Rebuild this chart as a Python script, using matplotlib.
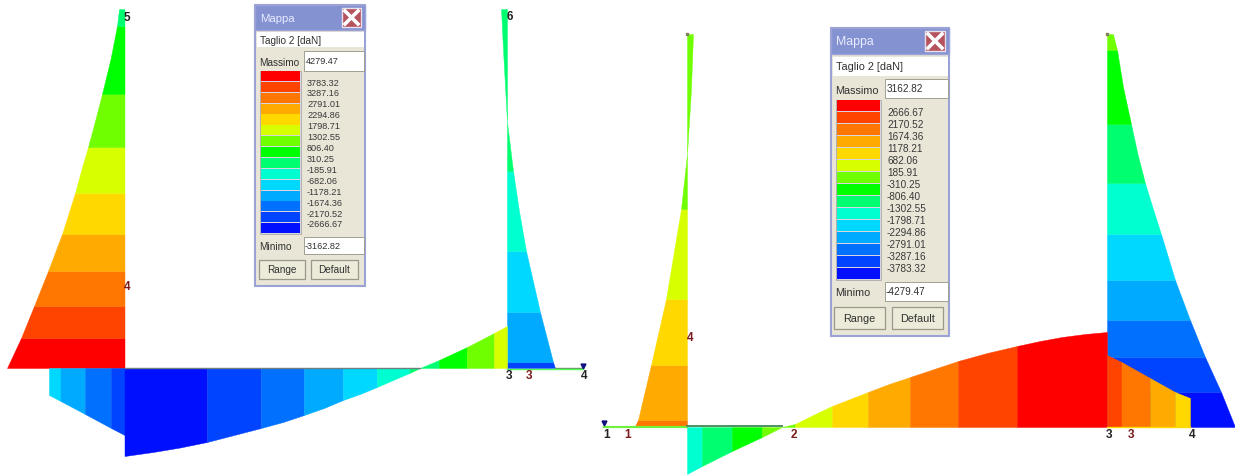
import matplotlib
matplotlib.use("Agg")
import matplotlib.pyplot as plt
from matplotlib.patches import Rectangle

plt.rcParams['font.family'] = ['Liberation Sans', 'DejaVu Sans']

PALETTE = ['#ff0000', '#ff4400', '#ff7700', '#ffaa00', '#ffd800', '#d8ff00', '#70ff00', '#00ff00',
           '#00ff70', '#00ffd0', '#00d8ff', '#00aaff', '#0070ff', '#0044ff', '#0010ff']

# ---- left diagram ----
L_col1_y = [369, 339, 307, 272, 235, 194, 170, 148, 120, 95, 60, 27, 10]
L_col1_x = [7, 21, 34, 48, 62, 75, 81.5, 88, 95.5, 102, 110.5, 117, 119]
L_col1_edges = [369, 339, 307, 272, 235, 194, 148, 95, 27, 10]
L_col1_c = [0, 1, 2, 3, 4, 5, 6, 7, 8]
L_col1_base = 124.5

L_beam1_x = [49, 60.5, 85, 111, 124.5]
L_beam1_y = [396, 402, 415, 429, 436]
L_beam1_edges = [49, 60.5, 85, 111, 124.5]
L_beam1_c = [10, 11, 12, 13]

L_beam2_x = [124.5, 153, 180, 207, 234, 261, 283, 304, 324, 343, 360, 377, 393, 409.5, 420, 439, 467, 494, 507]
L_beam2_y = [457, 453, 448.5, 443, 436, 429, 423, 416, 409, 401, 395, 388, 381, 374, 369, 361, 348, 334, 327]
L_beam2_edges = [124.5, 207, 261, 304, 343, 377, 409.5, 420, 439, 467, 494, 507]
L_beam2_c = [14, 13, 12, 11, 10, 9, 8, 8, 7, 6, 5]
L_base_y = 369

L_col2_y = [369, 363, 313, 252, 212, 172, 123]
L_col2_x = [555, 553, 540, 526, 519, 513, 507]
L_col2_edges = [369, 363, 313, 252, 172, 123]
L_col2_c = [13, 11, 10, 9, 8]
L_col2_top_y = [123, 60, 10]
L_col2_top_x = [507, 503.5, 501]
L_col2_base = 507

# ---- right diagram ----
R_col1_y = [427, 421, 366, 300, 210, 155]
R_col1_x = [635, 638, 651, 666, 681, 687]
R_col1_edges = [427, 421, 366, 300, 210, 155]
R_col1_c = [2, 3, 4, 5, 6]
R_col1_top_y = [155, 90, 35]
R_col1_top_x = [687, 691, 693]
R_col1_base = 687

R_beam0_x = [687, 702, 732, 762, 782]
R_beam0_y = [475, 467, 452, 438, 428]
R_beam0_edges = [687, 702, 732, 762, 782]
R_beam0_c = [9, 8, 7, 6]

R_beam1_x = [782, 795, 813, 832, 850, 868, 889, 910, 934, 958, 987, 1017, 1040, 1062, 1085, 1107]
R_beam1_y = [428, 425, 416, 407, 400, 393, 385, 378, 370, 362, 354, 347, 342, 338, 335, 333]
R_beam1_edges = [782, 795, 832, 868, 910, 958, 1017, 1107]
R_beam1_c = [6, 5, 4, 3, 2, 1, 0]

R_beam2_x = [1107, 1121.5, 1150, 1175, 1190]
R_beam2_y = [356, 363, 379, 393, 399]
R_beam2_edges = [1107, 1121.5, 1150, 1175, 1190]
R_beam2_c = [1, 2, 3, 4]
R_base_y = 428

R_col2_y = [428, 393, 358, 321, 281, 235, 210, 184, 155, 125, 88, 51, 35]
R_col2_x = [1235, 1221, 1205, 1190, 1175, 1161, 1153, 1145, 1137.5, 1131, 1123, 1117, 1113]
R_col2_edges = [428, 393, 358, 321, 281, 235, 184, 125, 51, 35]
R_col2_c = [14, 13, 12, 11, 10, 9, 8, 7, 6]
R_col2_base = 1107

# ---- legends ----
L_title = 'Taglio 2 [daN]'
L_max = '4279.47'
L_min = '-3162.82'
L_levels = ['3783.32', '3287.16', '2791.01', '2294.86', '1798.71', '1302.55', '806.40', '310.25',
            '-185.91', '-682.06', '-1178.21', '-1674.36', '-2170.52', '-2666.67']
R_max = '3162.82'
R_min = '-4279.47'
R_levels = ['2666.67', '2170.52', '1674.36', '1178.21', '682.06', '185.91', '-310.25', '-806.40',
            '-1302.55', '-1798.71', '-2294.86', '-2791.01', '-3287.16', '-3783.32']

fig = plt.figure(figsize=(12.35, 4.77), dpi=100)
ax = fig.add_axes([0, 0, 1, 1])
ax.set_xlim(0, 1235)
ax.set_ylim(477, 0)
ax.axis('off')


def section(pos, val, a, b):
    lo, hi = min(a, b), max(a, b)
    pairs = [(p, v) for p, v in zip(pos, val) if lo <= p <= hi]
    return [p for p, v in pairs], [v for p, v in pairs]


def vbands(base, ys, xs, edges, cols, z=2):
    for i, c in enumerate(cols):
        y, x = section(ys, xs, edges[i], edges[i + 1])
        ax.fill_betweenx(y, base, x, color=PALETTE[c], lw=0.3, zorder=z)


def hbands(base, xs, ys, edges, cols, z=2):
    for i, c in enumerate(cols):
        x, y = section(xs, ys, edges[i], edges[i + 1])
        ax.fill_between(x, base, y, color=PALETTE[c], lw=0.3, zorder=z)


# left diagram
vbands(L_col1_base, L_col1_y, L_col1_x, L_col1_edges, L_col1_c)
hbands(L_base_y, L_beam1_x, L_beam1_y, L_beam1_edges, L_beam1_c, z=3)
hbands(L_base_y, L_beam2_x, L_beam2_y, L_beam2_edges, L_beam2_c, z=3)
vbands(L_col2_base, L_col2_y, L_col2_x, L_col2_edges, L_col2_c)
vbands(L_col2_base, L_col2_top_y, L_col2_top_x, L_col2_top_y[::2], [8])
ax.plot([124.5, 420], [368.5, 368.5], color='#6f7f80', lw=1.0, zorder=4)
ax.plot([555, 583], [368.5, 368.5], color='#6f8f70', lw=1.0, zorder=4)
ax.plot([507, 583], [370, 370], color='#50ff50', lw=1.0, zorder=4)
ax.plot([583], [367], marker='v', ms=3.5, color='#101080', zorder=5)

# right diagram
vbands(R_col1_base, R_col1_y, R_col1_x, R_col1_edges, R_col1_c)
vbands(R_col1_base, R_col1_top_y, R_col1_top_x, R_col1_top_y[::2], [6])
vbands(R_col2_base, R_col2_y, R_col2_x, R_col2_edges, R_col2_c)
hbands(R_base_y, R_beam0_x, R_beam0_y, R_beam0_edges, R_beam0_c, z=3)
hbands(R_base_y, R_beam1_x, R_beam1_y, R_beam1_edges, R_beam1_c, z=3)
hbands(R_base_y, R_beam2_x, R_beam2_y, R_beam2_edges, R_beam2_c, z=3)
ax.plot([604, 687], [427.5, 427.5], color='#70f040', lw=1.6, zorder=4)
ax.plot([687, 782], [427, 427], color='#4f8f60', lw=1.4, zorder=4)
ax.plot([1107, 1190], [428, 428], color='#ffd800', lw=1.0, zorder=4)
ax.plot([604], [424], marker='v', ms=3.5, color='#101080', zorder=5)
ax.plot([687], [35], marker='s', ms=2, color='#808060', zorder=5)
ax.plot([1107], [35], marker='s', ms=2, color='#808060', zorder=5)

# node labels
BLK = '#222222'
RED = '#7a1a1a'
node_labels = [('5', 127, 18, BLK), ('4', 127, 287, RED), ('6', 510, 17, BLK), ('3', 509, 376, BLK),
               ('3', 529, 376, RED), ('4', 584, 376, BLK), ('1', 607, 435, BLK), ('1', 628, 435, RED),
               ('4', 690, 338, RED), ('2', 794, 435, RED), ('3', 1109, 435, BLK), ('3', 1131, 435, RED),
               ('4', 1192, 435, BLK)]
for s, x, y, c in node_labels:
    ax.text(x, y, s, color=c, fontsize=8.5, fontweight='bold', ha='center', va='center', zorder=6)


def panel(x0, x1, y0, y1, title_h, box_top, box_bot, max_top, max_bot, sw_x0, sw_x1, sw_y0, sw_y1,
          lab_x, lab_y0, lab_y1, levels, vmax, vmin, min_top, min_bot, box_x, b1, b2, btn_top, btn_bot, fs):
    ax.add_patch(Rectangle((x0, y0), x1 - x0, y1 - y0, fc='#e9e6d8', ec='#9aa2d6', lw=1.5, zorder=7))
    ax.add_patch(Rectangle((x0, y0), x1 - x0, title_h, fc='#8492d2', ec='#9aa2d6', lw=1, zorder=7.5))
    ax.text(x0 + 5, y0 + title_h / 2 + 0.5, 'Mappa', color='#e8ecff', fontsize=fs + 1.6, ha='left', va='center', zorder=8)
    cs = title_h - 6
    cx = x1 - cs - 4
    cy = y0 + 3
    ax.add_patch(Rectangle((cx, cy), cs, cs, fc='#b4525e', ec='#e8e0e8', lw=1, zorder=8))
    ax.plot([cx + 3, cx + cs - 3], [cy + 3, cy + cs - 3], color='white', lw=2.6, zorder=9)
    ax.plot([cx + 3, cx + cs - 3], [cy + cs - 3, cy + 3], color='white', lw=2.6, zorder=9)
    ax.add_patch(Rectangle((x0 + 2, box_top), x1 - x0 - 3, box_bot - box_top, fc='white', ec='none', zorder=8))
    ax.text(x0 + 5, (box_top + box_bot) / 2, L_title, color='#303030', fontsize=fs + 0.6, va='center', zorder=9)
    ax.text(x0 + 4, (max_top + max_bot) / 2 + 1, 'Massimo', color='#303030', fontsize=fs + 0.6, va='center', zorder=9)
    ax.add_patch(Rectangle((box_x, max_top), x1 - box_x - 1, max_bot - max_top, fc='white', ec='#a0a090', lw=0.7, zorder=8))
    ax.text(box_x + 2, (max_top + max_bot) / 2, vmax, color='#303030', fontsize=fs, va='center', zorder=9)
    ax.add_patch(Rectangle((sw_x0 - 1, sw_y0), sw_x1 - sw_x0 + 2, sw_y1 - sw_y0, fc='#d8d5e0', ec='#a0a0a0', lw=0.5, zorder=8))
    h = (sw_y1 - sw_y0) / len(PALETTE)
    for i, c in enumerate(PALETTE):
        ax.add_patch(Rectangle((sw_x0, sw_y0 + i * h), sw_x1 - sw_x0, h - 0.8, fc=c, ec='none', zorder=9))
    step = (lab_y1 - lab_y0) / (len(levels) - 1)
    for i, s in enumerate(levels):
        ax.text(lab_x, lab_y0 + i * step, s, color='#383838', fontsize=fs, va='center', ha='left', zorder=9)
    ax.text(x0 + 4, (min_top + min_bot) / 2 + 1, 'Minimo', color='#303030', fontsize=fs + 0.6, va='center', zorder=9)
    ax.add_patch(Rectangle((box_x, min_top), x1 - box_x - 1, min_bot - min_top, fc='white', ec='#a0a090', lw=0.7, zorder=8))
    ax.text(box_x + 1, (min_top + min_bot) / 2, vmin, color='#303030', fontsize=fs, va='center', zorder=9)
    for (a, b), s in zip([b1, b2], ['Range', 'Default']):
        ax.add_patch(Rectangle((a, btn_top), b - a, btn_bot - btn_top, fc='#ecead9', ec='#9a9888', lw=0.9, zorder=8))
        ax.text((a + b) / 2, (btn_top + btn_bot) / 2, s, color='#303030', fontsize=fs + 0.6, ha='center', va='center', zorder=9)


panel(255, 365, 6, 287, 25, 33, 48, 52, 72, 261, 300, 72, 235, 307, 83, 225,
      L_levels, L_max, L_min, 238, 255, 304, (259, 305), (311, 358), 261, 280, 6.6)
panel(831, 949, 29, 337, 26, 58, 77, 80, 99, 837, 880, 101, 281, 887, 113, 269,
      R_levels, R_max, R_min, 283, 302, 885, (834, 885), (892, 943), 308, 330, 7.2)

fig.savefig('out.png', dpi=100)
